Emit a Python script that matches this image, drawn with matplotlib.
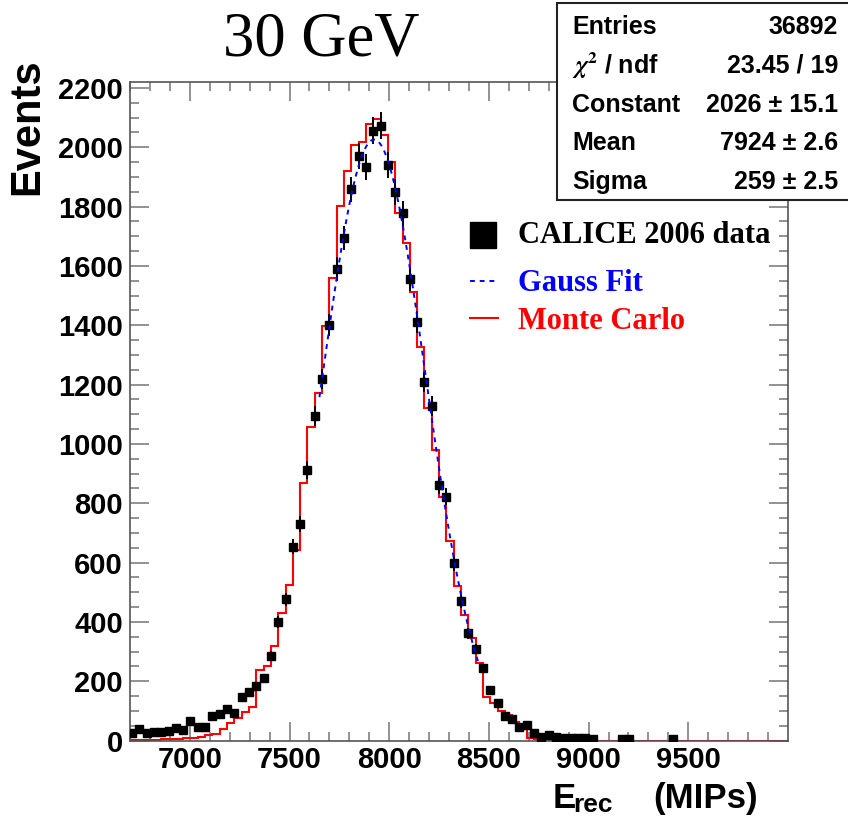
"""30 GeV shower energy: CALICE 2006 data vs Gauss fit vs Monte Carlo."""

import numpy as np
import matplotlib
matplotlib.use("Agg")
import matplotlib.pyplot as plt
from matplotlib.lines import Line2D
from matplotlib.patches import Rectangle

W, H = 848, 818

# data points (bin centres in MIPs, events per bin)
DATA_X = [6710, 6746.7, 6783.3, 6820, 6856.7, 6893.3, 6930, 6966.7,
          7003.3, 7040, 7076.7, 7113.3, 7150, 7186.7, 7223.3, 7260, 7296.7,
          7333.3, 7370, 7406.7, 7443.3, 7480, 7516.7, 7553.3, 7590, 7626.7,
          7663.3, 7700, 7736.7, 7773.3, 7810, 7846.7, 7883.3, 7920, 7956.7,
          7993.3, 8030, 8066.7, 8103.3, 8140, 8176.7, 8213.3, 8250, 8286.7,
          8323.3, 8360, 8396.7, 8433.3, 8470, 8506.7, 8543.3, 8580, 8616.7,
          8653.3, 8690, 8726.7, 8763.3, 8800, 8836.7, 8873.3, 8910, 8946.7,
          8983.3, 9020, 9166.7, 9203.3, 9423.3]
DATA_Y = [24, 38, 26, 29, 29, 33, 41, 35,
          67, 47, 47, 84, 88, 105, 92, 145, 163,
          184, 210, 285, 400, 476, 653, 729, 912, 1094,
          1219, 1400, 1589, 1695, 1858, 1971, 1932, 2055, 2072,
          1939, 1850, 1777, 1556, 1410, 1208, 1128, 860, 822,
          597, 470, 361, 308, 243, 170, 125, 83, 72,
          44, 52, 24, 11, 18, 11, 9, 7, 9,
          7, 5, 5, 5, 5]

# Monte Carlo histogram (shifted by half a bin w.r.t. the data)
MC_FIRST_EDGE = 6710.0
MC_BIN_WIDTH = 36.667
MC_COUNTS = [2, 2, 3, 3, 4, 5, 6, 7,
             8, 13, 19, 22, 38, 58, 75, 97, 114,
             238, 250, 319, 429, 524, 642, 867, 1056, 1171,
             1398, 1558, 1802, 1921, 2008, 2019, 2079, 2094, 2041,
             1951, 1777, 1678, 1513, 1328, 1120, 979, 822, 674,
             521, 423, 345, 260, 148, 125, 100, 86, 63,
             47, 10, 6, 4, 3, 2, 2, 1, 1, 1]
MC_EMPTY_BINS = 28

# Gauss fit parameters (from the stats box)
FIT_CONSTANT = 2026.0
FIT_MEAN = 7924.0
FIT_SIGMA = 259.0
FIT_RANGE = (7650, 8445)

STATS_LABELS = ["Entries", r"$\chi^{2}$ / ndf", "Constant", "Mean", "Sigma"]
STATS_VALUES = ["36892", "23.45 / 19", "2026 \u00b1 15.1", "7924 \u00b1 2.6",
                "259 \u00b1 2.5"]

TICK_GREY = "#7f7f7f"
FRAME_GREY = "#555555"

plt.rcParams["font.family"] = ["Liberation Sans", "DejaVu Sans"]
plt.rcParams["font.weight"] = "bold"
plt.rcParams["font.size"] = 21
plt.rcParams["mathtext.fontset"] = "stix"


def fx(px):
    return px / W


def fy(py):
    return 1 - py / H


fig = plt.figure(figsize=(W / 100, H / 100), dpi=100)
ax = fig.add_axes([fx(130), fy(740.5), 658 / W, 658.5 / H])
ax.set_xlim(6700, 10000)
ax.set_ylim(0, 2220)

mc_counts = np.array(MC_COUNTS + [0] * MC_EMPTY_BINS, dtype=float)
mc_edges = MC_FIRST_EDGE + MC_BIN_WIDTH * np.arange(len(mc_counts) + 1)
ax.stairs(mc_counts, mc_edges, color="#ff0000", lw=1.5, zorder=2)

data_y = np.array(DATA_Y, dtype=float)
ax.errorbar(DATA_X, data_y, yerr=np.sqrt(data_y), fmt="s", color="black",
            ms=6, elinewidth=1.4, capsize=0, zorder=3)

fit_x = np.linspace(FIT_RANGE[0], FIT_RANGE[1], 300)
fit_y = FIT_CONSTANT * np.exp(-0.5 * ((fit_x - FIT_MEAN) / FIT_SIGMA) ** 2)
ax.plot(fit_x, fit_y, color="#0000ff", lw=1.4, ls=(0, (2.5, 2.5)), zorder=4)

# ROOT-like frame and ticks
ax.set_xticks(range(7000, 10000, 500))
ax.set_xticks(range(6700, 10000, 100), minor=True)
ax.set_yticks(range(0, 2201, 200))
ax.set_yticks(range(0, 2201, 50), minor=True)
ax.tick_params(which="both", direction="in", top=True, right=True,
               color=TICK_GREY, width=1.2)
ax.tick_params(which="major", length=13.5)
ax.tick_params(which="minor", length=6.5)
ax.tick_params(axis="x", pad=4)
ax.tick_params(axis="y", pad=5)
for spine in ax.spines.values():
    spine.set_color(FRAME_GREY)
    spine.set_linewidth(1.2)

# title and axis titles
fig.text(fx(321), fy(40), "30 GeV", family="Liberation Serif",
         fontweight="normal", fontsize=45, ha="center", va="center")
fig.text(fx(27), fy(58), "Events", rotation=90, fontsize=30,
         ha="center", va="top")
fig.text(fx(553), fy(808), "E", fontsize=25, ha="left", va="baseline")
fig.text(fx(573), fy(812), "rec", fontsize=19, ha="left", va="baseline")
fig.text(fx(758), fy(808), "(MIPs)", fontsize=25, ha="right",
         va="baseline")

# legend
fig.add_artist(Line2D([fx(483)], [fy(235)], marker="s", ms=19, ls="none",
                      color="black", transform=fig.transFigure))
fig.add_artist(Line2D([fx(470), fx(496)], [fy(281), fy(281)], lw=1.4,
                      ls=(0, (2.5, 2.5)), color="#0000ff",
                      transform=fig.transFigure))
fig.add_artist(Line2D([fx(470), fx(498)], [fy(318), fy(318)], lw=1.5,
                      color="#ff0000", transform=fig.transFigure))
legend_rows = [("CALICE 2006 data", "black", 243),
               ("Gauss Fit", "#0000ff", 291),
               ("Monte Carlo", "#ff0000", 329)]
for text, colour, base in legend_rows:
    fig.text(fx(518), fy(base), text, family="Liberation Serif",
             fontweight="bold", fontsize=22, color=colour, va="baseline")

# stats box
fig.add_artist(Rectangle((fx(557), fy(200)), (870 - 557) / W, 197 / H,
                         transform=fig.transFigure, facecolor="white",
                         edgecolor="#222222", lw=1.5, zorder=10))
for i, (label, value) in enumerate(zip(STATS_LABELS, STATS_VALUES)):
    row_y = fy(27 + 38.8 * i)
    fig.text(fx(572), row_y, label, fontsize=18, ha="left", va="center",
             zorder=11)
    fig.text(fx(838), row_y, value, fontsize=18, ha="right", va="center",
             zorder=11)

fig.savefig("out.png", dpi=100, facecolor="white")
